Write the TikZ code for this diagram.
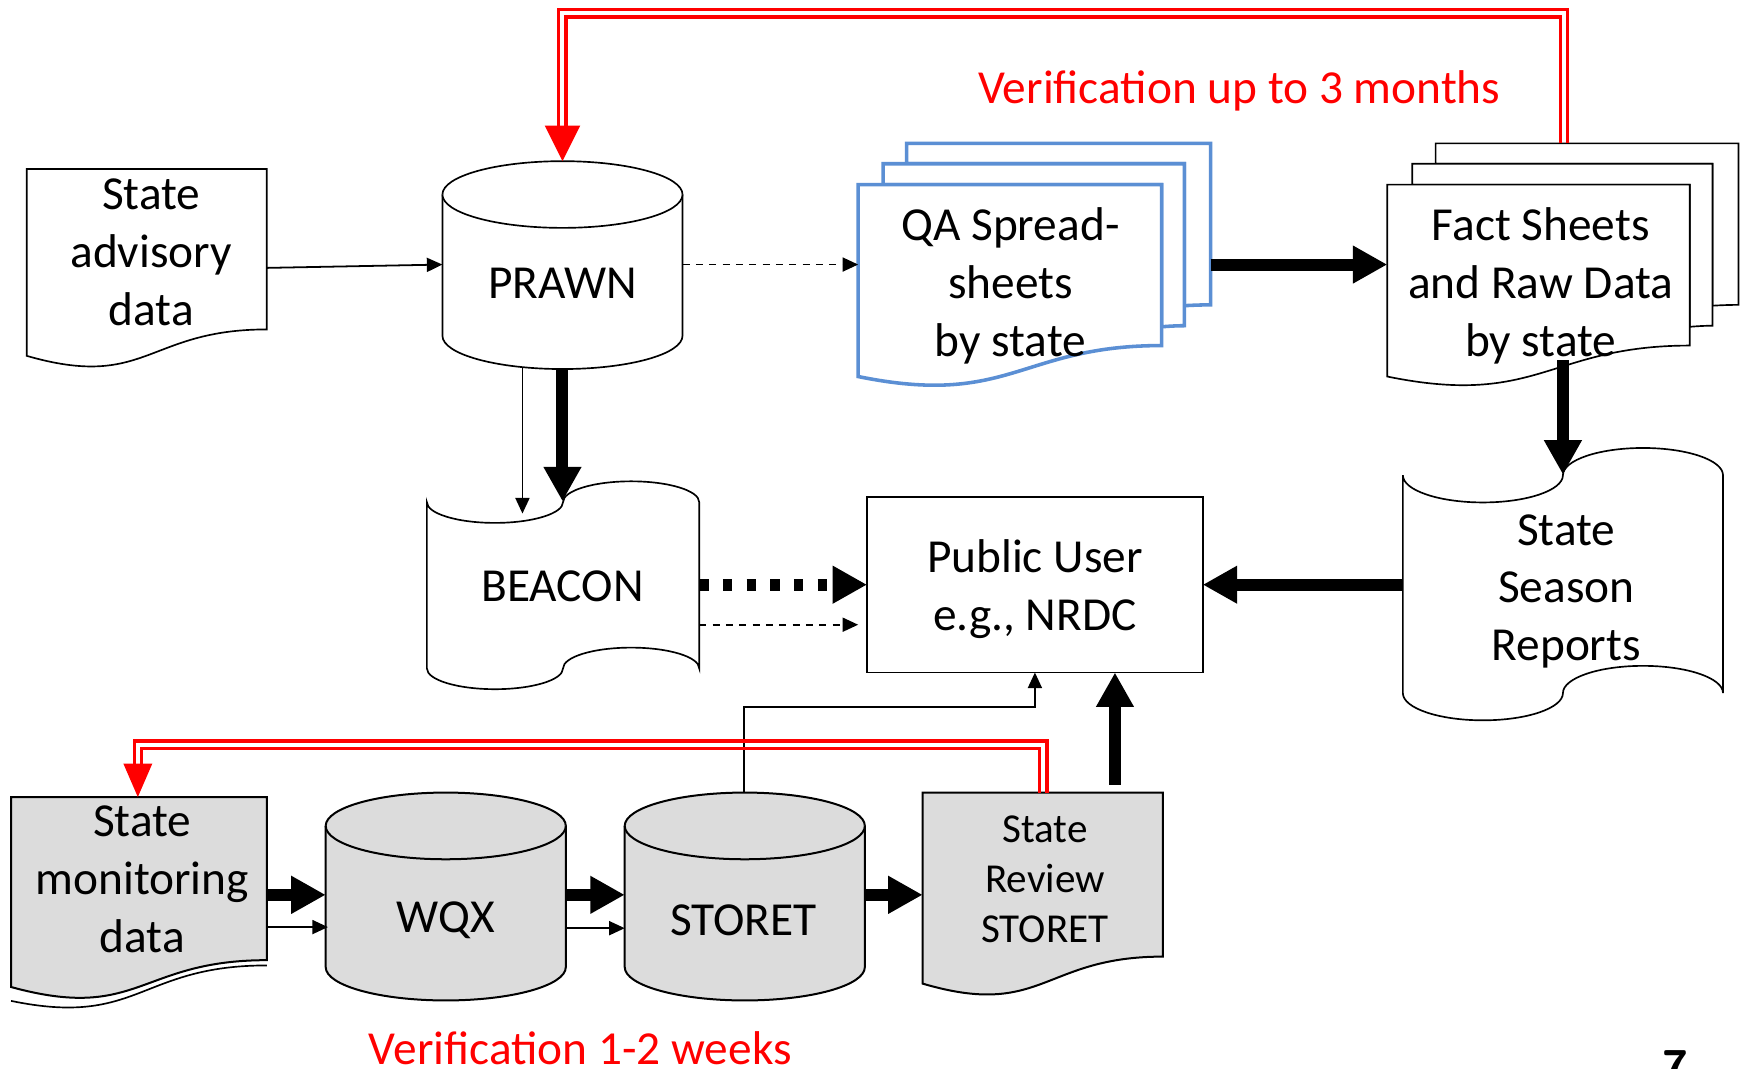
\documentclass[tikz,border=0pt]{standalone}
\usepackage{fontspec}
\setmainfont{Carlito}
\usetikzlibrary{arrows.meta,calc}
\definecolor{qablue}{RGB}{91,143,212}
\definecolor{shade}{RGB}{220,220,220}
\definecolor{vred}{RGB}{255,0,0}
\newcommand{\fsmain}{\fontsize{21.3}{26}\selectfont}
\newcommand{\fssmall}{\fontsize{18.5}{22.5}\selectfont}
% document shape: style, x0, y0, w, h
\newcommand{\docshape}[5]{%
  \draw[#1] (#2,#3) -- (#2+#4,#3) -- (#2+#4,#3+0.802*#5)
    .. controls (#2+0.5*#4,#3+0.802*#5) and (#2+0.5*#4,#3+1.107*#5) .. (#2,#3+0.934*#5) -- cycle;}
% multi document: style, x0, y0, w, h
\newcommand{\multidoc}[5]{%
  \draw[#1] (#2+0.1376*#4,#3+0.084*#5) -- (#2+0.1376*#4,#3) -- (#2+#4,#3) -- (#2+#4,#3+0.6663*#5)
    .. controls (#2+0.963*#4,#3+0.6663*#5) and (#2+0.9259*#4,#3+0.6698*#5) .. (#2+0.9259*#4,#3+0.6698*#5)
    -- (#2+0.9259*#4,#3+0.084*#5) -- cycle;
  \draw[#1] (#2+0.0709*#4,#3+0.1701*#5) -- (#2+0.0709*#4,#3+0.084*#5) -- (#2+0.9259*#4,#3+0.084*#5) -- (#2+0.9259*#4,#3+0.7524*#5)
    .. controls (#2+0.8934*#4,#3+0.7524*#5) and (#2+0.8609*#4,#3+0.757*#5) .. (#2+0.8609*#4,#3+0.757*#5)
    -- (#2+0.8609*#4,#3+0.1701*#5) -- cycle;
  \draw[#1] (#2,#3+0.1701*#5) -- (#2+0.8609*#4,#3+0.1701*#5) -- (#2+0.8609*#4,#3+0.8343*#5)
    .. controls (#2+0.4603*#4,#3+0.8343*#5) and (#2+0.4305*#4,#3+1.0899*#5) .. (#2,#3+0.9621*#5) -- cycle;}
% cylinder: style, x0, y0, w, h, ry
\newcommand{\canshape}[6]{%
  \draw[#1] (#2,#3+#6) -- (#2,#3+#5-#6) arc[start angle=180, delta angle=-180, x radius=#4/2, y radius=#6]
    -- (#2+#4,#3+#6) arc[start angle=0, delta angle=-180, x radius=#4/2, y radius=#6] -- cycle;
  \draw[#1] (#2,#3+#6) arc[start angle=180, delta angle=-180, x radius=#4/2, y radius=#6];}
% punched tape: style, x0, y0, w, h
\newcommand{\tapeshape}[5]{%
  \draw[#1] (#2,#3+0.1*#5) arc[start angle=180, delta angle=-180, x radius=#4/4, y radius=0.1*#5]
    arc[start angle=180, delta angle=180, x radius=#4/4, y radius=0.1*#5]
    -- (#2+#4,#3+0.9*#5) arc[start angle=0, delta angle=-180, x radius=#4/4, y radius=0.1*#5]
    arc[start angle=0, delta angle=180, x radius=#4/4, y radius=0.1*#5] -- cycle;}

\begin{document}
\begin{tikzpicture}[x=0.5pt,y=-0.5pt,
  outl/.style={draw=black, line width=0.75pt, fill=white, line join=miter},
  grayoutl/.style={draw=black, line width=0.9pt, fill=shade, line join=miter},
  blueoutl/.style={draw=qablue, line width=1.6pt, fill=white, line join=miter},
  txt/.style={font=\fsmain, align=center, inner sep=0pt},
  thinarrow/.style={line width=0.8pt, -{Triangle[length=7pt,width=6.3pt]}},
  thickarrow/.style={line width=5.4pt, -{Triangle[length=15.5pt,width=16pt]}},
  dottedthick/.style={thickarrow, dash pattern=on 4.3pt off 6.35pt},
  dashedthin/.style={thinarrow, dash pattern=on 3.2pt off 2.8pt},
  redl/.style={draw=vred, line width=1.5pt, line join=miter},
  redtxt/.style={font=\fsmain, text=vred, inner sep=0pt}]
\useasboundingbox[fill=white] (0,0) rectangle (1568,961);

% ---------- shapes ----------
\docshape{outl}{24}{152}{216}{180}
\canshape{outl}{398}{145}{216}{187}{30}
\multidoc{blueoutl}{772}{129}{317}{218}
\multidoc{outl}{1248}{129}{316}{218}
\tapeshape{outl}{384}{433}{245}{187}
\draw[outl] (780,447) rectangle (1082,605);
\tapeshape{outl}{1262}{403}{288}{245}
\docshape{grayoutl}{10}{717}{230}{183}
\draw[line width=0.75pt] (240,868.5) .. controls (125,868.5) and (125,924.3) .. (10,900.4);
\canshape{grayoutl}{293}{713}{216}{187}{30}
\canshape{grayoutl}{562}{713}{216}{187}{30}
\docshape{grayoutl}{830}{713}{216}{184}

% ---------- texts ----------
\node[txt] (adv) at (136,227) {State\\advisory\\data};
\node[txt] (prawn) at (506,255) {PRAWN};
\node[txt] (qa) at (909,257) {QA Spread-\\sheets\\by state};
\node[txt] (fact) at (1386,257) {Fact Sheets\\and Raw Data\\by state};
\node[txt] (beacon) at (506,527) {BEACON};
\node[txt] (pub) at (931,530) {Public User\\e.g., NRDC};
\node[txt] (ssr) at (1409,532) {State\\Season\\Reports};
\node[txt] (smd) at (128,791) {State\\monitoring\\data};
\node[txt] (wqx) at (401,828) {WQX};
\node[txt] (storet) at (669,828) {STORET};
\node[txt, font=\fssmall] (srs) at (940,791) {State\\Review\\STORET};
\node[redtxt] (vtop) at (1115,82) {Verification up to 3 months};
\node[redtxt] (vbot) at (522,943) {Verification 1-2 weeks};
\node[font=\fsmain\sffamily\bfseries, inner sep=0pt, anchor=base] (pg) at (1507,975) {7};

% ---------- connection points ----------
\coordinate (advR) at (240,241);
\coordinate (prawnL) at (398,238);
\coordinate (prawnR) at (614,238);
\coordinate (qaL) at (772,238);
\coordinate (qaR) at (1089,238);
\coordinate (factL) at (1248,238);
\coordinate (factB) at (1406,324);
\coordinate (ssrT) at (1406,427);
\coordinate (ssrL) at (1262,526);
\coordinate (pubR) at (1082,526);
\coordinate (prawnB) at (506,332);
\coordinate (beaconT) at (506,451);
\coordinate (prawnB2) at (470,330);
\coordinate (beaconT2) at (470,462);
\coordinate (beaconR1) at (629,526);
\coordinate (pubL1) at (780,526);
\coordinate (beaconR2) at (629,562);
\coordinate (pubL2) at (772,562);
\coordinate (storetT) at (669,713);
\coordinate (pubB1) at (931,605);
\coordinate (srsT) at (1003,706);
\coordinate (pubB2) at (1003,605);
\coordinate (smdR1) at (240,805);
\coordinate (wqxL1) at (293,805);
\coordinate (smdR2) at (240,834);
\coordinate (wqxL2) at (295,834);
\coordinate (wqxR1) at (509,805);
\coordinate (storetL1) at (562,805);
\coordinate (wqxR2) at (509,835);
\coordinate (storetL2) at (562,835);
\coordinate (storetR) at (778,805);
\coordinate (srsL) at (830,805);
\coordinate (factTop) at (1407,129);
\coordinate (prawnTop) at (506,145);
\coordinate (srsTop) at (938.5,713);
\coordinate (smdTop) at (124,717);

% ---------- connectors ----------
\draw[thinarrow] (advR) -- (prawnL);
\draw[dashedthin] (prawnR) -- (qaL);
\draw[thickarrow] (qaR) -- (factL);
\draw[thickarrow] (factB) -- (ssrT);
\draw[thickarrow] (ssrL) -- (pubR);
\draw[thickarrow] (prawnB) -- (beaconT);
\draw[thinarrow] (prawnB2) -- (beaconT2);
\draw[dottedthick] (beaconR1) -- (pubL1);
\draw[dashedthin] (beaconR2) -- (pubL2);
\draw[thinarrow] (storetT) |- ($(pubB1)+(0,31)$) -- (pubB1);
\draw[thickarrow] (srsT) -- (pubB2);
\draw[thickarrow] (smdR1) -- (wqxL1);
\draw[thinarrow] (smdR2) -- (wqxL2);
\draw[thickarrow] (wqxR1) -- (storetL1);
\draw[thinarrow] (wqxR2) -- (storetL2);
\draw[thickarrow] (storetR) -- (srsL);

% red double feedback lines
\draw[redl] ($(factTop)+(3.3,0)$) |- ($(prawnTop)+(-3.3,-136.3)$) -- ($(prawnTop)+(-3.3,-31)$);
\draw[redl] ($(factTop)+(-3.3,0)$) |- ($(prawnTop)+(3.3,-129.7)$) -- ($(prawnTop)+(3.3,-31)$);
\fill[vred] (prawnTop) -- ++(-16,-32) -- ++(32,0) -- cycle;
\draw[redl] ($(srsTop)+(3.3,0)$) |- ($(smdTop)+(-3.3,-50.3)$) -- ($(smdTop)+(-3.3,-29)$);
\draw[redl] ($(srsTop)+(-3.3,0)$) |- ($(smdTop)+(3.3,-43.7)$) -- ($(smdTop)+(3.3,-29)$);
\fill[vred] (smdTop) -- ++(-13,-30) -- ++(26,0) -- cycle;
\end{tikzpicture}
\end{document}
